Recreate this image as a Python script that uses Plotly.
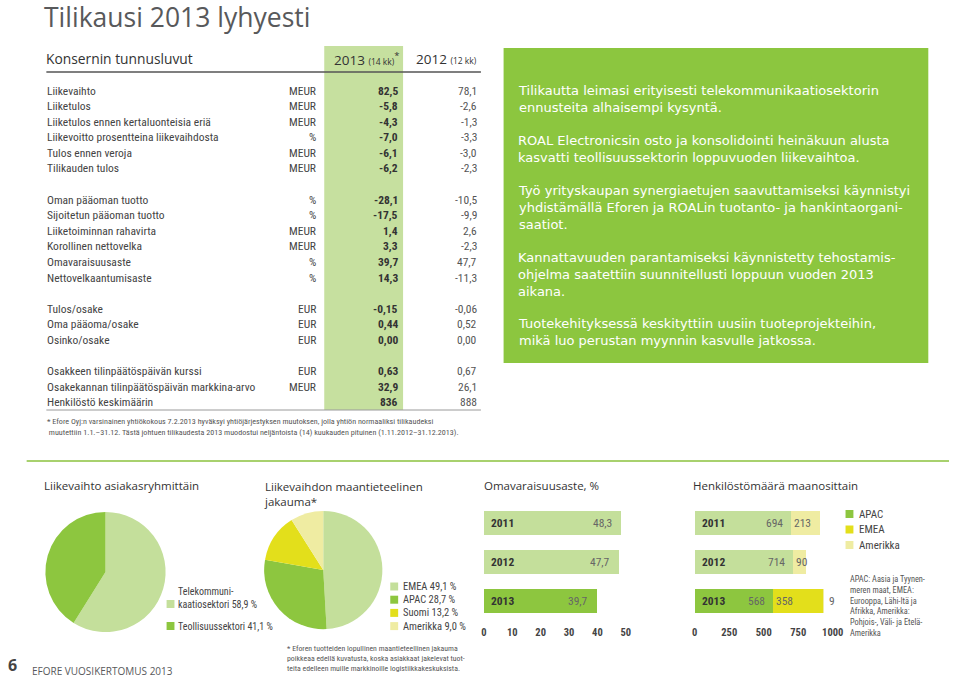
import plotly.graph_objects as go

W, H = 960, 677

# ---------------- DATA ----------------
row_labels = [
    ["Liikevaihto", "Liiketulos", "Liiketulos ennen kertaluonteisia eriä",
     "Liikevoitto prosentteina liikevaihdosta", "Tulos ennen veroja", "Tilikauden tulos"],
    ["Oman pääoman tuotto", "Sijoitetun pääoman tuotto", "Liiketoiminnan rahavirta",
     "Korollinen nettovelka", "Omavaraisuusaste", "Nettovelkaantumisaste"],
    ["Tulos/osake", "Oma pääoma/osake", "Osinko/osake"],
    ["Osakkeen tilinpäätöspäivän kurssi", "Osakekannan tilinpäätöspäivän markkina-arvo",
     "Henkilöstö keskimäärin"],
]
row_units = [
    ["MEUR", "MEUR", "MEUR", "%", "MEUR", "MEUR"],
    ["%", "%", "MEUR", "MEUR", "%", "%"],
    ["EUR", "EUR", "EUR"],
    ["EUR", "MEUR", ""],
]
values_2013 = [
    ["82,5", "-5,8", "-4,3", "-7,0", "-6,1", "-6,2"],
    ["-28,1", "-17,5", "1,4", "3,3", "39,7", "14,3"],
    ["-0,15", "0,44", "0,00"],
    ["0,63", "32,9", "836"],
]
values_2012 = [
    ["78,1", "-2,6", "-1,3", "-3,3", "-3,0", "-2,3"],
    ["-10,5", "-9,9", "2,6", "-2,3", "47,7", "-11,3"],
    ["-0,06", "0,52", "0,00"],
    ["0,67", "26,1", "888"],
]

customer_labels = ["Telekommunikaatiosektori", "Teollisuussektori"]
customer_share = [58.9, 41.1]

region_labels = ["EMEA", "APAC", "Suomi", "Amerikka"]
region_share = [49.1, 28.7, 13.2, 9.0]

equity_years = ["2011", "2012", "2013"]
equity_ratio = [48.3, 47.7, 39.7]

staff_years = ["2011", "2012", "2013"]
staff_apac = [694, 714, 568]
staff_emea = [213, 90, 358]
staff_amer = [0, 0, 9]

box_paragraphs = [
    ["Tilikautta leimasi erityisesti telekommunikaatiosektorin",
     "ennusteita alhaisempi kysyntä."],
    ["ROAL Electronicsin osto ja konsolidointi heinäkuun alusta",
     "kasvatti teollisuussektorin loppuvuoden liikevaihtoa."],
    ["Työ yrityskaupan synergiaetujen saavuttamiseksi käynnistyi",
     "yhdistämällä Eforen ja ROALin tuotanto- ja hankintaorgani-",
     "saatiot."],
    ["Kannattavuuden parantamiseksi käynnistetty tehostamis-",
     "ohjelma saatettiin suunnitellusti loppuun vuoden 2013",
     "aikana."],
    ["Tuotekehityksessä keskityttiin uusiin tuoteprojekteihin,",
     "mikä luo perustan myynnin kasvulle jatkossa."],
]

# ---------------- STYLE ----------------
GF = "Open Sans, Lato, sans-serif"
BF = "DejaVu Sans, Open Sans, sans-serif"
TF = "Liberation Sans Narrow, Roboto Condensed, DejaVu Sans Condensed, Roboto, sans-serif"
C_BOX = "#8cc63f"
C_COL = "#c6e09f"
C_LG = "#c4df9b"
C_G = "#8dc63f"
C_Y = "#e3df1b"
C_PY = "#efeca2"
C_TXT = "#444444"


def px(x):
    return x / W


def py(y):
    return 1 - y / H


annotations = []
shapes = []


def ann(x, y, text, size=11, color=C_TXT, anchor="left", family=TF, weight=None,
        vanchor="middle", pad=1):
    if not text:
        return
    f = dict(size=size, color=color, family=family)
    if weight:
        f["weight"] = weight
    annotations.append(dict(x=px(x), y=py(y), xref="paper", yref="paper", text=text,
                            showarrow=False, xanchor=anchor, yanchor=vanchor, font=f,
                            borderpad=pad, align="left"))


def rect(x0, y0, x1, y1, color):
    shapes.append(dict(type="rect", xref="paper", yref="paper", x0=px(x0), x1=px(x1),
                       y0=py(y1), y1=py(y0), fillcolor=color, line=dict(width=0), layer="below"))


def hline(x0, x1, y, color, width):
    shapes.append(dict(type="line", xref="paper", yref="paper", x0=px(x0), x1=px(x1),
                       y0=py(y), y1=py(y), line=dict(color=color, width=width)))


# ---------------- HEADER / TABLE ----------------
ann(41, 17, "Tilikausi 2013 lyhyesti", size=26.5, color="#58595b", family=GF, pad=0)
rect(326, 46, 406, 410, C_COL)
ann(42, 59, "Konsernin tunnusluvut", size=13.8, color="#333333", family=GF)
ann(404, 59, "2013 <span style='font-size:8.5px'>(14 kk)</span><sup>*</sup>", size=13.5,
    color="#333333", family=GF, anchor="right")
ann(483, 59, "2012 <span style='font-size:8.5px'>(12 kk)</span>", size=13.5,
    color="#333333", family=GF, anchor="right")
hline(44, 485, 72, "#555555", 1.3)

group_start = [90.5, 199.5, 308.5, 371]
step = 15.6
for g in range(len(row_labels)):
    for i, lab in enumerate(row_labels[g]):
        y = group_start[g] + i * step
        ann(43, y, lab, size=11.5)
        ann(320, y, row_units[g][i], size=11.5, anchor="right")
        ann(403, y, values_2013[g][i], size=11.5, color="#333333", anchor="right", weight="bold")
        ann(483, y, values_2012[g][i], size=11.5, color="#555555", anchor="right")
hline(44, 485, 410, "#9a9a9a", 1)
ann(43, 426, "* Efore Oyj:n varsinainen yhtiökokous 7.2.2013 hyväksyi yhtiöjärjestyksen muutoksen, "
    "jolla yhtiön normaaliksi tilikaudeksi<br> muutettiin 1.1.–31.12. Tästä johtuen tilikaudesta "
    "2013 muodostui neljäntoista (14) kuukauden pituinen (1.11.2012–31.12.2013).",
    size=8.1, color="#555555")

# ---------------- GREEN BOX ----------------
rect(508, 48, 939, 363, C_BOX)
para_first_y = [91, 141, 191, 258, 324]
for p, lines in enumerate(box_paragraphs):
    mid = para_first_y[p] + (len(lines) - 1) * 16.9 / 2
    ann(521, mid, "<br>".join(lines), size=13, color="white", family=BF)

# ---------------- SEPARATOR ----------------
hline(24, 960, 461, "#a8d16e", 2)

# ---------------- BOTTOM TITLES ----------------
ann(40, 485, "Liikevaihto asiakasryhmittäin", size=11.5, color="#333333", family=GF)
ann(263, 493.5, "Liikevaihdon maantieteelinen<br>jakauma*", size=11.5, color="#333333", family=GF)
ann(486, 485, "Omavaraisuusaste, %", size=11.5, color="#333333", family=GF)
ann(698, 485, "Henkilöstömäärä maanosittain", size=11.5, color="#333333", family=GF)

fig = go.Figure()

# ---------------- PIE 1 ----------------
fig.add_trace(go.Pie(values=customer_share, labels=customer_labels, sort=False,
                     direction="clockwise", rotation=0, textinfo="none",
                     marker=dict(colors=[C_LG, C_G], line=dict(width=0)),
                     domain=dict(x=[px(43), px(165)], y=[py(633), py(511)]),
                     showlegend=False))
rect(166, 600, 174, 608, C_LG)
ann(176, 597.5, "Telekommuni-<br>kaatiosektori %s %%" % str(customer_share[0]).replace(".", ","),
    size=10)
rect(166, 622, 174, 630, C_G)
ann(176, 626, "Teollisuussektori %s %%" % str(customer_share[1]).replace(".", ","), size=10)

# ---------------- PIE 2 ----------------
reg_colors = [C_LG, C_G, C_Y, C_PY]
fig.add_trace(go.Pie(values=region_share, labels=region_labels, sort=False,
                     direction="clockwise", rotation=0, textinfo="none",
                     marker=dict(colors=reg_colors, line=dict(width=0)),
                     domain=dict(x=[px(265), px(385)], y=[py(630), py(510)]),
                     showlegend=False))
for k, (lab, v) in enumerate(zip(region_labels, region_share)):
    yy = 586.5 + k * 13.2
    rect(393, yy - 4, 401, yy + 4, reg_colors[k])
    ann(404, yy, "%s %s %%" % (lab, ("%.1f" % v).replace(".", ",")), size=10.5)
ann(286, 658, "* Eforen tuotteiden lopullinen maantieteellinen jakauma<br>"
    "poikkeaa edellä kuvatusta, koska asiakkaat jakelevat tuot-<br>"
    "teita edelleen muille markkinoille logistiikkakeskuksista.", size=7.8, color="#555555")

# ---------------- BAR 1: Omavaraisuusaste ----------------
fig.add_trace(go.Bar(x=equity_ratio, y=equity_years, orientation="h",
                     marker=dict(color=[C_LG, C_LG, C_G], line=dict(width=0)),
                     xaxis="x", yaxis="y", showlegend=False))
for k, (yr, v) in enumerate(zip(equity_years, equity_ratio)):
    annotations.append(dict(x=0, y=k, xref="x", yref="y", text="<b>%s</b>" % yr, showarrow=False,
                            xanchor="left", xshift=5, font=dict(size=11.5, color="#333333", family=TF)))
    annotations.append(dict(x=v, y=k, xref="x", yref="y", text=("%.1f" % v).replace(".", ","),
                            showarrow=False, xanchor="right", xshift=-7,
                            font=dict(size=11.5, color="#666666", family=TF)))

# ---------------- BAR 2: Henkilöstö ----------------
fig.add_trace(go.Bar(x=staff_apac, y=staff_years, orientation="h", name="APAC",
                     marker=dict(color=[C_LG, C_LG, C_G], line=dict(width=0)),
                     xaxis="x2", yaxis="y2", showlegend=False))
fig.add_trace(go.Bar(x=staff_emea, y=staff_years, orientation="h", name="EMEA",
                     marker=dict(color=[C_PY, C_PY, C_Y], line=dict(width=0)),
                     xaxis="x2", yaxis="y2", showlegend=False))
fig.add_trace(go.Bar(x=staff_amer, y=staff_years, orientation="h", name="Amerikka",
                     marker=dict(color=C_PY, line=dict(width=0)),
                     xaxis="x2", yaxis="y2", showlegend=False))
for k, (yr, a, e, m) in enumerate(zip(staff_years, staff_apac, staff_emea, staff_amer)):
    annotations.append(dict(x=0, y=k, xref="x2", yref="y2", text="<b>%s</b>" % yr, showarrow=False,
                            xanchor="left", xshift=5, font=dict(size=11.5, color="#333333", family=TF)))
    annotations.append(dict(x=a, y=k, xref="x2", yref="y2", text=str(a), showarrow=False,
                            xanchor="right", xshift=-6, font=dict(size=11.5, color="#666666", family=TF)))
    annotations.append(dict(x=a, y=k, xref="x2", yref="y2", text=str(e), showarrow=False,
                            xanchor="left", xshift=1, font=dict(size=11.5, color="#666666", family=TF)))
    if m:
        annotations.append(dict(x=a + e + m, y=k, xref="x2", yref="y2", text=str(m), showarrow=False,
                                xanchor="left", xshift=3, font=dict(size=11.5, color="#666666", family=TF)))

leg = [("APAC", C_G), ("EMEA", C_Y), ("Amerikka", C_PY)]
for k, (lab, col) in enumerate(leg):
    yy = 514 + k * 15.5
    rect(855, yy - 4, 863, yy + 4, col)
    ann(867, yy, lab, size=11)
ann(857, 605.5, "APAC: Aasia ja Tyynen-<br>meren maat, EMEA:<br>Eurooppa, Lähi-Itä ja<br>"
    "Afrikka, Amerikka:<br>Pohjois-, Väli- ja Etelä-<br>Amerikka", size=8.3, color="#555555")

# ---------------- FOOTER ----------------
ann(4, 677, "<b>6</b>", size=16, color="#444444", family=GF, vanchor="bottom", pad=0)
ann(27, 671, "EFORE VUOSIKERTOMUS 2013", size=10, color="#58595b", family=GF)

axis_common = dict(showgrid=False, zeroline=False, showline=False, ticks="",
                   ticklabelstandoff=4,
                   tickfont=dict(size=10.5, color="#444444", family=TF, weight="bold"))
yaxis_common = dict(type="category", range=[2.5, -0.5], autorange=False, fixedrange=True,
                    showgrid=False, zeroline=False, showline=False, showticklabels=False)

fig.update_layout(
    width=W, height=H, margin=dict(l=0, r=0, t=0, b=0),
    paper_bgcolor="white", plot_bgcolor="rgba(0,0,0,0)",
    barmode="stack", bargap=0.38,
    xaxis=dict(domain=[px(488), px(632)], range=[0, 50], tickvals=[0, 10, 20, 30, 40, 50],
               anchor="y", fixedrange=True, **axis_common),
    yaxis=dict(domain=[py(620), py(504)], categoryorder="array", categoryarray=equity_years,
               anchor="x", **yaxis_common),
    xaxis2=dict(domain=[px(702), px(842)], range=[0, 1000], tickvals=[0, 250, 500, 750, 1000],
                anchor="y2", fixedrange=True, **axis_common),
    yaxis2=dict(domain=[py(620), py(504)], categoryorder="array", categoryarray=staff_years,
                anchor="x2", **yaxis_common),
    annotations=annotations, shapes=shapes,
)

fig.write_html("out.html", config={"displayModeBar": False, "staticPlot": True},
               post_script="document.body.style.margin='0';document.body.style.overflow='hidden';")
